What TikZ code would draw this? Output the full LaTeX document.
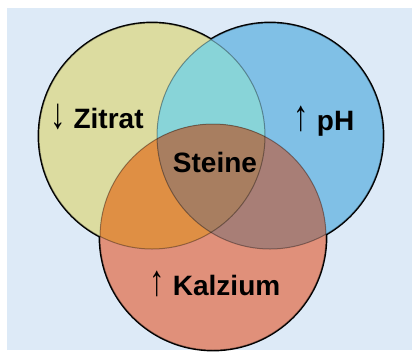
\documentclass[tikz,border=0pt]{standalone}
\usepackage{fontspec}
\setmainfont{Liberation Sans}
\definecolor{bgblue}{HTML}{DDEAF7}
\definecolor{cy}{HTML}{DCDCA0}
\definecolor{cb}{HTML}{80C0E6}
\definecolor{co}{HTML}{E0907A}
\definecolor{cyb}{HTML}{88D4D8}
\definecolor{cyo}{HTML}{DF8F44}
\definecolor{cbo}{HTML}{A87E76}
\definecolor{cybo}{HTML}{A87E60}
\newcommand{\upar}{{\mdseries\scalebox{1.1}[1.55]{↑}}}
\newcommand{\dnar}{{\mdseries\scalebox{1.1}[1.55]{↓}}}
\begin{document}
\begin{tikzpicture}[x=1pt,y=-1pt,
  lbl/.style={anchor=base,inner sep=0pt,font=\fontsize{28}{30}\selectfont\bfseries},
  outerline/.style={draw=black,line width=2.8pt},
  innerline/.style={draw=black,draw opacity=0.35,line width=1pt}]
\useasboundingbox (0,0) rectangle (412,360);
\fill[white] (0,0) rectangle (412,360);
\fill[bgblue] (7,8) rectangle (412,350);
\coordinate (Y) at (152,136);
\coordinate (B) at (270,136);
\coordinate (O) at (213,237);
\def\R{113}
% outer outline pass
\foreach \c in {Y,B,O} \draw[outerline] (\c) circle (\R);
% base fills
\fill[cy] (Y) circle (\R);
\fill[cb] (B) circle (\R);
\fill[co] (O) circle (\R);
% pairwise overlaps
\begin{scope}\clip (Y) circle (\R); \fill[cyb] (B) circle (\R);\end{scope}
\begin{scope}\clip (Y) circle (\R); \fill[cyo] (O) circle (\R);\end{scope}
\begin{scope}\clip (B) circle (\R); \fill[cbo] (O) circle (\R);\end{scope}
% triple overlap
\begin{scope}\clip (Y) circle (\R); \clip (B) circle (\R); \fill[cybo] (O) circle (\R);\end{scope}
% inner lines
\foreach \c in {Y,B,O} \draw[innerline] (\c) circle (\R);
% labels
\node[lbl] (zitrat) at (97,128) {\dnar\ Zitrat};
\node[lbl] (ph) at (324,130) {\upar\ pH};
\node[lbl] (steine) at (215,172) {Steine};
\node[lbl] (kalzium) at (215,295) {\upar\ Kalzium};
\end{tikzpicture}
\end{document}
